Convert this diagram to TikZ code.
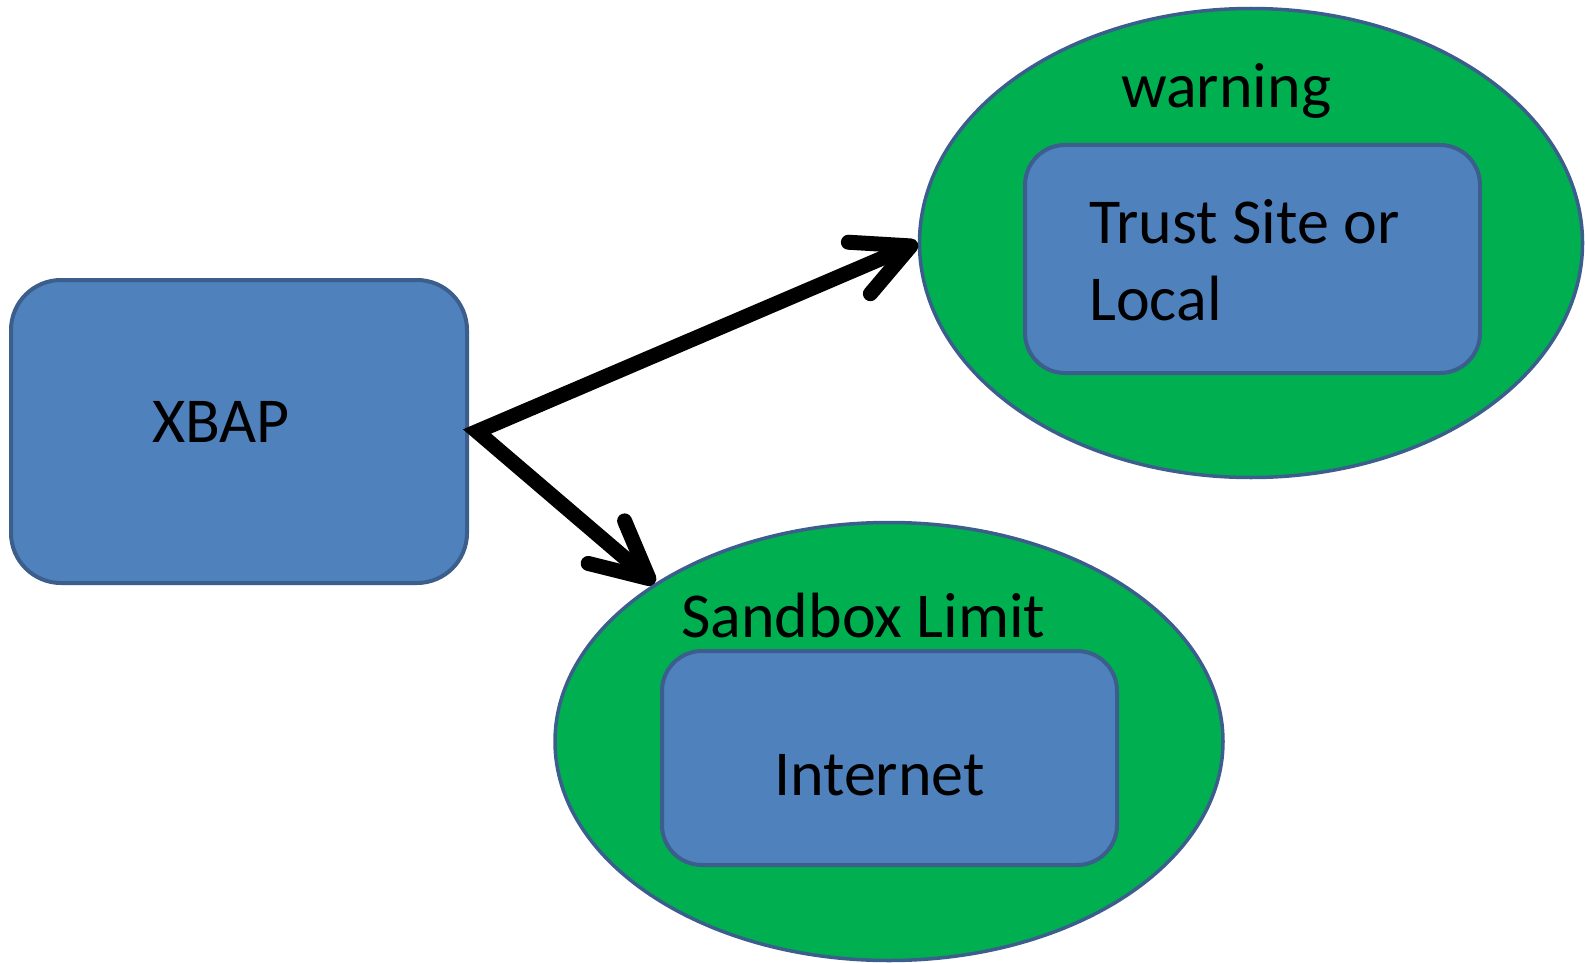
\documentclass[tikz,border=0pt]{standalone}
\usepackage{fontspec}
\setmainfont{Carlito}
\usetikzlibrary{shapes.geometric,arrows.meta}
\definecolor{boxblue}{HTML}{4F81BD}
\definecolor{edgeblue}{HTML}{3B5E8C}
\definecolor{zonegreen}{HTML}{00B050}
\begin{document}
\begin{tikzpicture}[x=1pt,y=-1pt,
  box/.style={rectangle, draw=edgeblue, line width=4pt, fill=boxblue, rounded corners=#1, inner sep=0pt},
  zone/.style={ellipse, draw=edgeblue, line width=3.5pt, fill=zonegreen, inner sep=0pt},
  lbl/.style={inner sep=0pt, font=\fontsize{64}{77}\selectfont, text=black},
  conn/.style={line width=15pt, line join=miter}]
\useasboundingbox (0,0) rectangle (1585,963);
\node[zone, minimum width=663pt, minimum height=469pt] (warnell) at (1251,243) {};
\node[box=40pt, minimum width=455pt, minimum height=228pt] (trustbox) at (1252.5,259) {};
\node[zone, minimum width=668pt, minimum height=438pt] (sandell) at (889,741.5) {};
\node[box=40pt, minimum width=455pt, minimum height=214pt] (netbox) at (889.5,758) {};
\node[box=50pt, minimum width=456pt, minimum height=303pt] (xbap) at (239,431.5) {};
\node[lbl, anchor=base west] (xbaptext) at (152,442) {XBAP};
\node[lbl, anchor=base west] (warntext) at (1121,108) {warning};
\node[lbl, anchor=base west, align=left] (trusttext) at (1089,320) {Trust Site or\\Local};
\node[lbl, anchor=base west] (sandtext) at (681,637) {Sandbox Limit};
\node[lbl, anchor=base west] (nettext) at (774,795) {Internet};
\draw[conn, {Straight Barb[length=56pt,width=56pt,round]}-{Straight Barb[length=56pt,width=56pt,round]}]
  (sandell.146) -- ([xshift=8pt]xbap.east) -- (warnell.west);
\end{tikzpicture}
\end{document}
